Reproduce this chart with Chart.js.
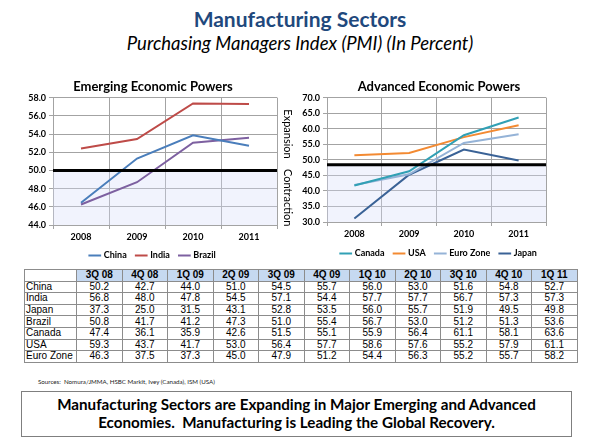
<!DOCTYPE html>
<html>
<head>
<meta charset="utf-8">
<script src="https://cdn.jsdelivr.net/npm/chart.js@4.4.1/dist/chart.umd.min.js"></script>
<style>
body{margin:0;width:600px;height:448px;background:#fff;position:relative;overflow:hidden;font-family:Lato,"Open Sans",sans-serif}
#title{position:absolute;top:6px;left:0;width:600px;text-align:center;font-weight:bold;font-size:21px;color:#1f497d}
#sub{position:absolute;top:32px;left:0;width:600px;text-align:center;font-style:italic;font-size:18.5px;color:#000}
#c1{position:absolute;left:20px;top:75px}
#c2{position:absolute;left:300px;top:75px}
#tbl{position:absolute;left:24px;top:269px;border-collapse:collapse;font-family:"Liberation Sans",Arial,sans-serif;font-size:10px;color:#000;background:#fff}
#tbl td{border:1px solid #8c8c8c;height:10.6px;line-height:10px;padding:0;text-align:center;width:44.5px}
#tbl td.lab{text-align:left;width:50px;padding-left:1px}
#tbl tr.hd td{background:#c6d9f1;font-weight:bold}
#tbl tr.hd td.lab{background:#fff}
#src{position:absolute;left:38px;top:378px;font-size:6.2px;color:#222}
#box{position:absolute;left:21px;top:391px;width:551px;height:46px;border:1px solid #7f7f7f;box-sizing:border-box;text-align:center;font-weight:bold;font-size:15.2px;line-height:18px;padding-top:3px;color:#000}
</style>
</head>
<body>
<div id="title">Manufacturing Sectors</div>
<div id="sub">Purchasing Managers Index (PMI) (In Percent)</div>
<canvas id="c1" width="280" height="195"></canvas>
<canvas id="c2" width="300" height="195"></canvas>
<table id="tbl"></table>
<div id="src">Sources:&nbsp; Nomura/JMMA, HSBC Markit, Ivey (Canada), ISM (USA)</div>
<div id="box">Manufacturing Sectors are Expanding in Major Emerging and Advanced<br>Economies.&nbsp; Manufacturing is Leading the Global Recovery.</div>
<script>
// annual values plotted in the two charts
var years = ['2008', '2009', '2010', '2011'];
var chinaYr  = [46.45, 51.3, 53.85, 52.7];
var indiaYr  = [52.4, 53.45, 57.35, 57.3];
var brazilYr = [46.25, 48.7, 53.05, 53.6];
var canadaYr = [41.75, 46.3, 57.9, 63.6];
var usaYr    = [51.5, 52.2, 57.3, 61.1];
var euroYr   = [41.9, 45.35, 55.4, 58.2];
var japanYr  = [31.15, 45.2, 53.3, 49.8];

// quarterly table
var quarters = ['3Q 08','4Q 08','1Q 09','2Q 09','3Q 09','4Q 09','1Q 10','2Q 10','3Q 10','4Q 10','1Q 11'];
var china  = [50.2, 42.7, 44.0, 51.0, 54.5, 55.7, 56.0, 53.0, 51.6, 54.8, 52.7];
var india  = [56.8, 48.0, 47.8, 54.5, 57.1, 54.4, 57.7, 57.7, 56.7, 57.3, 57.3];
var japan  = [37.3, 25.0, 31.5, 43.1, 52.8, 53.5, 56.0, 55.7, 51.9, 49.5, 49.8];
var brazil = [50.8, 41.7, 41.2, 47.3, 51.0, 55.4, 56.7, 53.0, 51.2, 51.3, 53.6];
var canada = [47.4, 36.1, 35.9, 42.6, 51.5, 55.1, 55.9, 56.4, 61.1, 58.1, 63.6];
var usa    = [59.3, 43.7, 41.7, 53.0, 56.4, 57.7, 58.6, 57.6, 55.2, 57.9, 61.1];
var euro   = [46.3, 37.5, 37.3, 45.0, 47.9, 51.2, 54.4, 56.3, 55.2, 55.7, 58.2];

var tbl = document.getElementById('tbl');
var html = '<tr class="hd"><td class="lab"></td>';
quarters.forEach(function(q){ html += '<td>' + q + '</td>'; });
html += '</tr>';
[['China', china], ['India', india], ['Japan', japan], ['Brazil', brazil],
 ['Canada', canada], ['USA', usa], ['Euro Zone', euro]].forEach(function(r){
    html += '<tr><td class="lab">' + r[0] + '</td>';
    r[1].forEach(function(v){ html += '<td>' + v.toFixed(1) + '</td>'; });
    html += '</tr>';
});
tbl.innerHTML = html;

var FONT = 'Lato';
var gridColor = '#a3a3a3';

// light band under the expansion/contraction line, plus the heavy black line
var zonePlugin = {
    id: 'zone',
    beforeDatasetsDraw: function(c){
        var o = c.options.plugins.zone, a = c.chartArea, y = c.scales.y;
        var py = y.getPixelForValue(o.level);
        c.ctx.save();
        c.ctx.fillStyle = 'rgba(215,222,250,0.35)';
        c.ctx.fillRect(a.left, py, a.right - a.left, a.bottom - py);
        c.ctx.restore();
    },
    afterDatasetsDraw: function(c){
        var o = c.options.plugins.zone, a = c.chartArea, y = c.scales.y;
        var py = y.getPixelForValue(o.level);
        var ctx = c.ctx;
        ctx.save();
        ctx.strokeStyle = '#000';
        ctx.lineWidth = 3;
        ctx.beginPath();
        ctx.moveTo(a.left, py);
        ctx.lineTo(a.right, py);
        ctx.stroke();
        if (o.side) {
            ctx.fillStyle = '#000';
            ctx.font = '11px ' + FONT;
            ctx.textAlign = 'center';
            ctx.textBaseline = 'middle';
            var x = a.right + 11;
            [['Expansion', (y.max + o.level) / 2], ['Contraction', (y.min + o.level) / 2]].forEach(function(t){
                ctx.save();
                ctx.translate(x, y.getPixelForValue(t[1]));
                ctx.rotate(Math.PI / 2);
                ctx.fillText(t[0], 0, 0);
                ctx.restore();
            });
        }
        ctx.restore();
    }
};

function makeChart(id, title, sets, min, max, step, level, side, yw, xh, rw, pad){
    return new Chart(document.getElementById(id), {
        type: 'line',
        data: {
            labels: years,
            datasets: sets.map(function(s){
                return { label: s[0], data: s[1], borderColor: s[2], backgroundColor: s[2],
                         borderWidth: 2, pointRadius: 0, tension: 0 };
            })
        },
        options: {
            responsive: false,
            animation: false,
            layout: { padding: pad },
            plugins: {
                zone: { level: level, side: side },
                title: { display: true, text: title, color: '#000',
                         font: { family: FONT, size: 13, weight: 'bold' }, padding: { top: 4, bottom: 3 } },
                legend: { position: 'bottom',
                          labels: { usePointStyle: true, pointStyle: 'line', boxWidth: 18, padding: 10, color: '#000',
                                    font: { family: FONT, size: 9, weight: 'bold' } } },
                tooltip: { enabled: false }
            },
            scales: {
                x: {
                    offset: true,
                    afterFit: function(s){ s.height = xh; },
                    grid: { color: gridColor, tickLength: 4, offset: true },
                    border: { color: gridColor },
                    ticks: { color: '#000', padding: 3, font: { family: FONT, size: 9, weight: 'bold' } }
                },
                y: {
                    min: min, max: max,
                    afterFit: function(s){ s.width = yw; },
                    grid: { color: gridColor, tickLength: 4 },
                    border: { color: gridColor },
                    ticks: { stepSize: step, color: '#000', padding: 3,
                             font: { family: FONT, size: 9, weight: 'bold' },
                             callback: function(v){ return v.toFixed(1); } }
                },
                // empty right-hand strip, room for the side labels
                side: {
                    position: 'right', min: min, max: max,
                    afterFit: function(s){ s.width = rw; },
                    grid: { display: false }, border: { display: false }, ticks: { display: false }
                }
            }
        },
        plugins: [zonePlugin]
    });
}

makeChart('c1', 'Emerging Economic Powers', [
    ['China', chinaYr, '#4a7ebb'],
    ['India', indiaYr, '#be4b48'],
    ['Brazil', brazilYr, '#7d60a0']
], 44, 58, 2, 50, true, 33, 16, 9, { left: 0, right: 14, top: 0, bottom: 0 });

makeChart('c2', 'Advanced Economic Powers', [
    ['Canada', canadaYr, '#31a0b5'],
    ['USA', usaYr, '#f38a32'],
    ['Euro Zone', euroYr, '#95b3d7'],
    ['Japan', japanYr, '#3a6296']
], 30, 70, 5, 48.4, false, 27, 17, 32, { left: 0, right: 22, top: 0, bottom: 2 });
</script>
</body>
</html>
